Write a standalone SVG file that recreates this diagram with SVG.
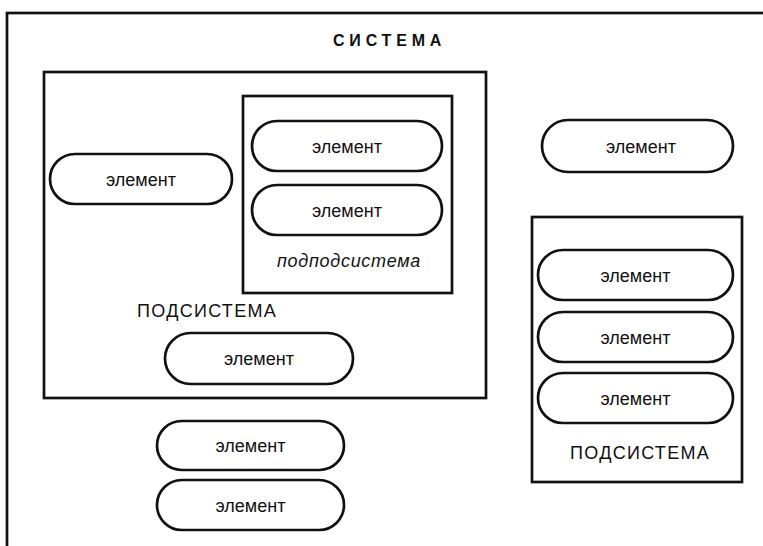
<svg xmlns="http://www.w3.org/2000/svg" width="763" height="546" viewBox="0 0 763 546">
<style>
.box{fill:none;stroke:#111;stroke-width:2.7}
.el{fill:#fff;stroke:#111;stroke-width:2.7}
.t{font-family:"Liberation Sans",Arial,sans-serif;font-size:18px;fill:#111;text-anchor:middle}
.lbl{font-family:"Liberation Sans",Arial,sans-serif;font-size:18px;fill:#111;letter-spacing:1.3px}
.it{font-family:"Liberation Sans",Arial,sans-serif;font-size:18px;font-style:italic;fill:#111;letter-spacing:0.7px}
.title{font-family:"Liberation Sans",Arial,sans-serif;font-size:16px;font-weight:bold;fill:#111;letter-spacing:4.8px}
</style>
<g id="system">
<rect class="box" x="7" y="13" width="800" height="600"/>
<text class="title" x="333" y="46">СИСТЕМА</text>
</g>
<g id="subsystem1">
<rect class="box" x="44" y="72" width="442" height="326"/>
<text class="lbl" x="137" y="317">ПОДСИСТЕМА</text>
</g>
<g id="subsubsystem">
<rect class="box" x="243" y="96" width="209" height="197"/>
<text class="it" x="277" y="267">подподсистема</text>
</g>
<g id="subsystem2">
<rect class="box" x="532" y="217" width="210" height="265"/>
<text class="lbl" x="570" y="459">ПОДСИСТЕМА</text>
</g>
<g id="el1"><rect class="el" x="50" y="154" width="182" height="50" rx="25"/><text class="t" x="141" y="185.5">элемент</text></g>
<g id="el2"><rect class="el" x="252" y="121" width="190" height="50" rx="25"/><text class="t" x="347" y="152.5">элемент</text></g>
<g id="el3"><rect class="el" x="252" y="185" width="190" height="50" rx="25"/><text class="t" x="347" y="216.5">элемент</text></g>
<g id="el4"><rect class="el" x="165" y="333" width="188" height="51" rx="25.5"/><text class="t" x="259" y="365">элемент</text></g>
<g id="el5"><rect class="el" x="157" y="421" width="187" height="49" rx="24.5"/><text class="t" x="250.5" y="452">элемент</text></g>
<g id="el6"><rect class="el" x="157" y="480" width="187" height="50" rx="25"/><text class="t" x="250.5" y="511.5">элемент</text></g>
<g id="el7"><rect class="el" x="542" y="120" width="191" height="52" rx="26"/><text class="t" x="641" y="152.5">элемент</text></g>
<g id="el8"><rect class="el" x="538" y="250" width="195" height="50" rx="25"/><text class="t" x="635.5" y="281.5">элемент</text></g>
<g id="el9"><rect class="el" x="538" y="312" width="195" height="50" rx="25"/><text class="t" x="635.5" y="343.5">элемент</text></g>
<g id="el10"><rect class="el" x="538" y="373" width="195" height="50" rx="25"/><text class="t" x="635.5" y="404.5">элемент</text></g>
<g id="connectors"></g>
</svg>
